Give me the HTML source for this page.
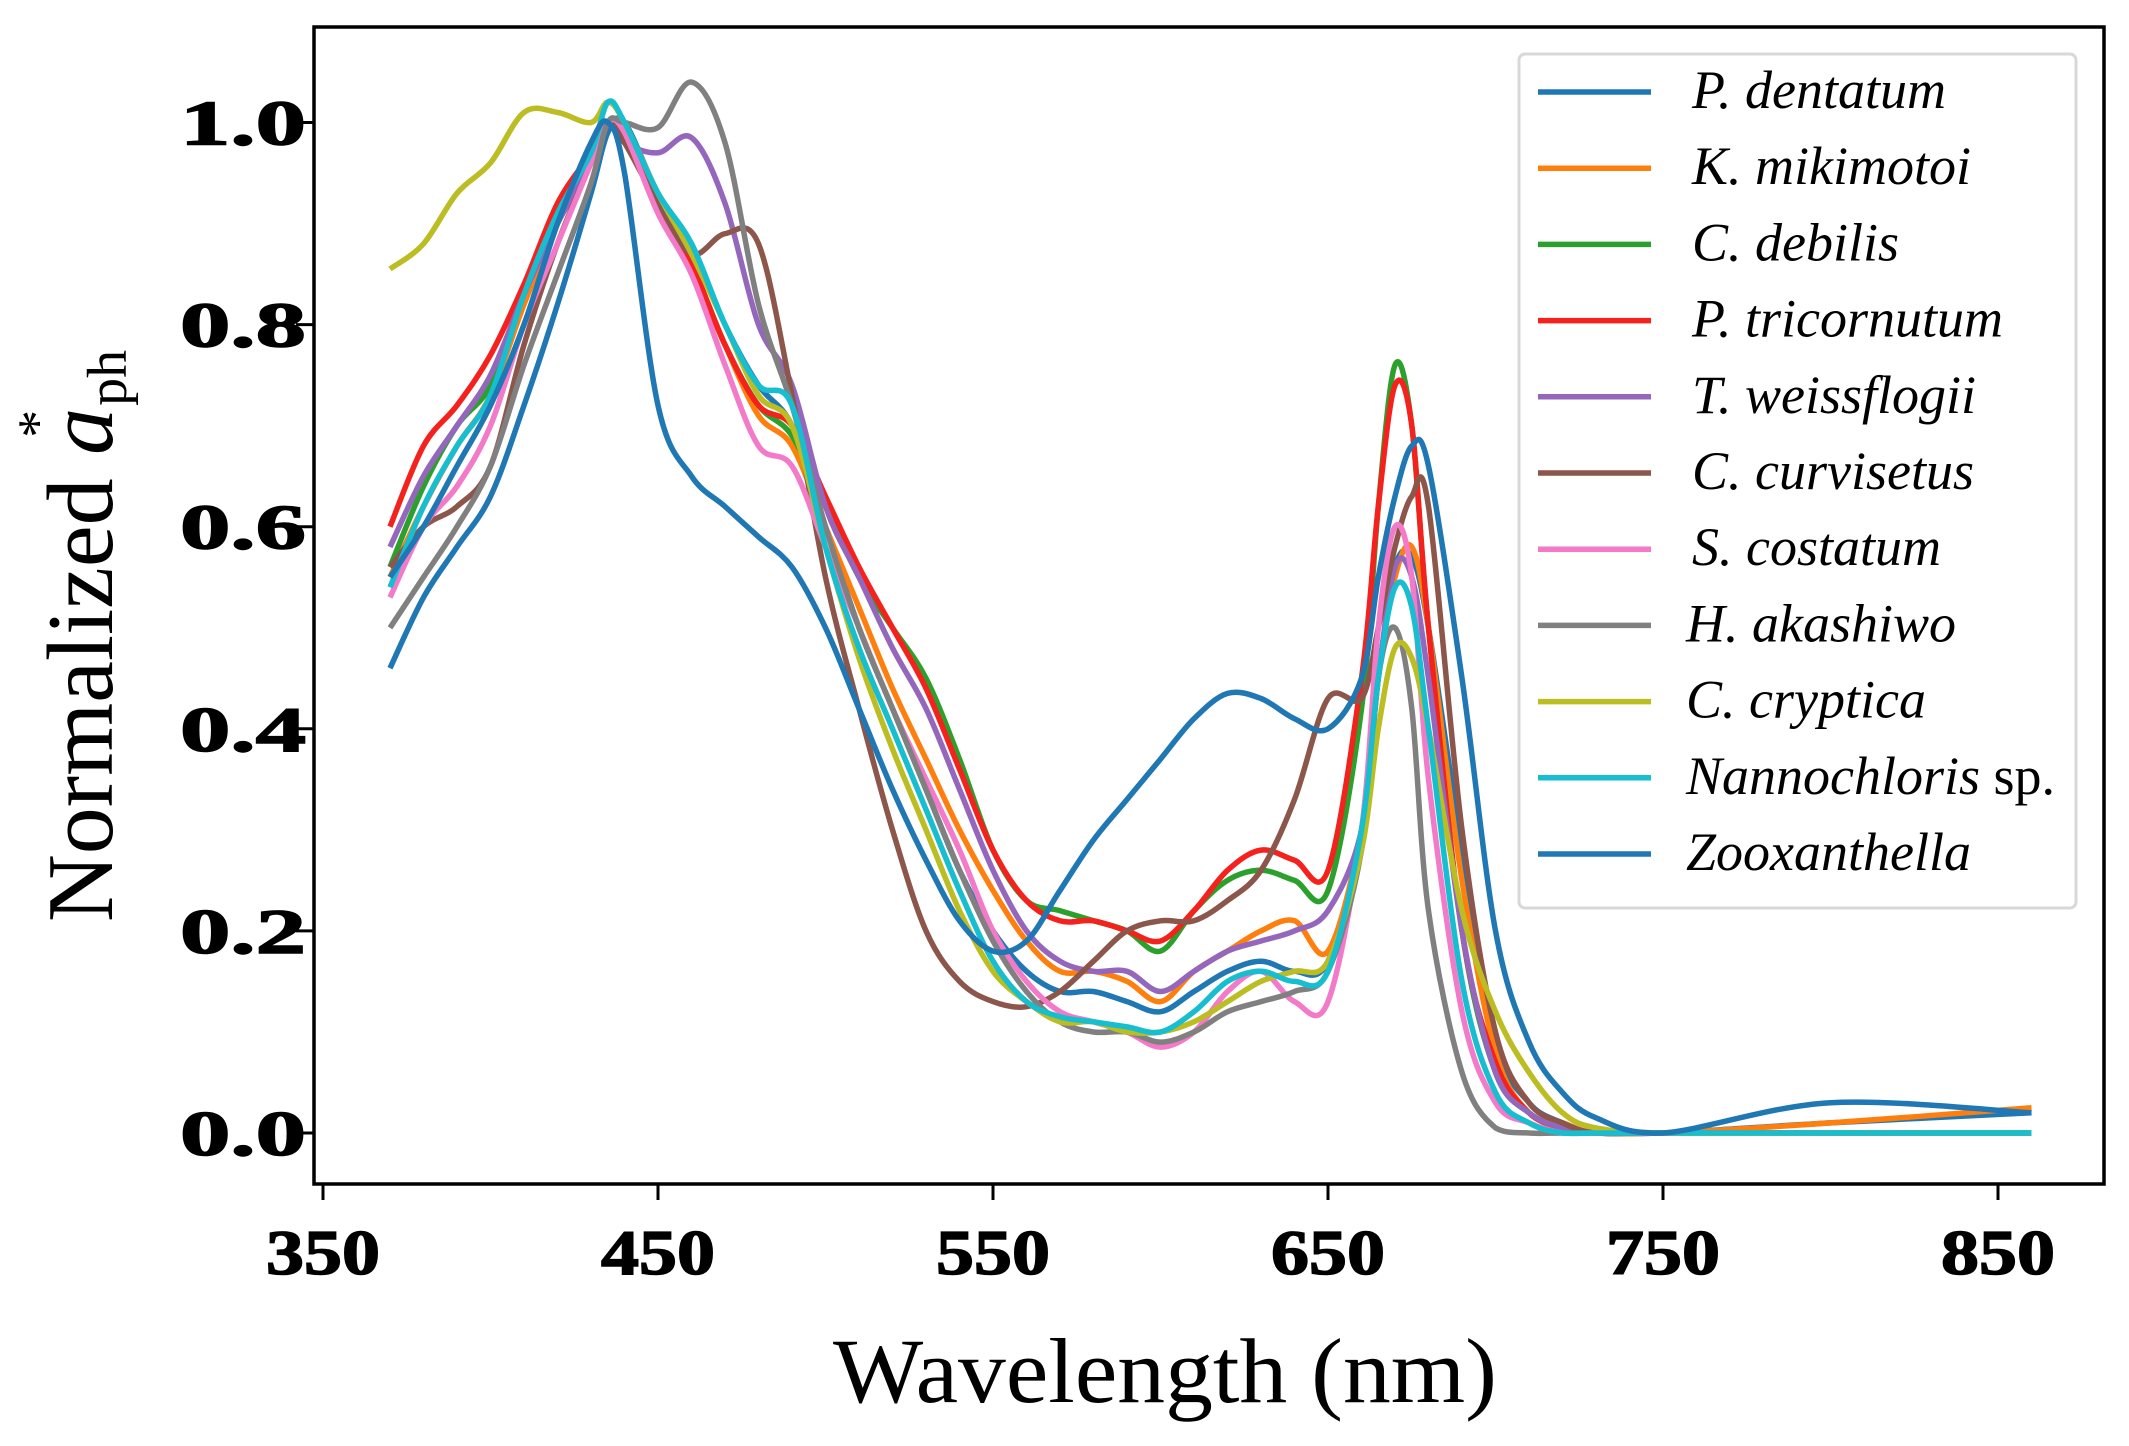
<!DOCTYPE html>
<html><head><meta charset="utf-8"><style>
html,body{margin:0;padding:0;background:#fff;}
svg{display:block;}
</style></head><body>
<svg id="chart" width="2129" height="1446" viewBox="0 0 2129 1446" xmlns="http://www.w3.org/2000/svg">
<rect x="314" y="27" width="1790" height="1157" fill="none" stroke="#000" stroke-width="3.5"/>
<g id="lines"></g>
<g id="axes"></g>
<text x="1165" y="1402" text-anchor="middle" font-family="Liberation Serif, serif" font-size="92" textLength="664" lengthAdjust="spacingAndGlyphs">Wavelength (nm)</text>
<g transform="translate(112,636) rotate(-90)">
<text x="0" y="0" text-anchor="middle" font-family="Liberation Serif, serif" font-size="94">Normalized <tspan font-style="italic">a</tspan><tspan font-size="56" dy="-56" dx="-30">*</tspan><tspan font-size="56" dy="70" dx="4">ph</tspan></text>
</g>
<g>
<rect x="1519" y="54" width="557" height="854" rx="6" fill="#fff" stroke="#d8d8d8" stroke-width="3"/>
<g id="legend-items"></g>
</g>
</svg>
<script>
const wavelengths=[370,380,390,400,410,420,430,435,440,450,460,470,480,490,500,510,520,530,540,550,560,570,580,590,600,610,620,630,640,650,660,665,670,675,680,690,700,710,720,730,750,800,860];
const speciesNames=["P. dentatum","K. mikimotoi","C. debilis","P. tricornutum","T. weissflogii","C. curvisetus","S. costatum","H. akashiwo","C. cryptica","Nannochloris","Zooxanthella"];
const colors=["#1f77b4","#ff7f0e","#2ca02c","#f5211d","#9467bd","#8c564b","#f27ac8","#808080","#bcbd22","#17becf","#1f77b4"];
const sDentatum=[0.46,0.53,0.58,0.63,0.72,0.82,0.93,0.99,1.0,0.93,0.88,0.80,0.74,0.70,0.60,0.50,0.42,0.34,0.26,0.20,0.16,0.14,0.14,0.13,0.12,0.14,0.16,0.17,0.16,0.17,0.30,0.45,0.56,0.57,0.50,0.28,0.09,0.03,0.01,0.0,0.0,0.01,0.02];
const sMikimotoi=[0.55,0.62,0.68,0.73,0.82,0.90,0.97,1.0,0.99,0.92,0.86,0.78,0.71,0.68,0.60,0.52,0.44,0.37,0.30,0.24,0.19,0.16,0.16,0.15,0.13,0.16,0.18,0.20,0.21,0.18,0.30,0.45,0.55,0.58,0.50,0.25,0.08,0.02,0.01,0.0,0.0,0.01,0.025];
const sDebilis=[0.56,0.64,0.70,0.74,0.83,0.91,0.97,1.0,0.99,0.92,0.86,0.78,0.72,0.69,0.62,0.55,0.50,0.45,0.37,0.28,0.23,0.22,0.21,0.20,0.18,0.22,0.25,0.26,0.25,0.24,0.42,0.62,0.76,0.70,0.50,0.20,0.06,0.02,0.005,0.0,0.0,0.0,0.0];
const sTricornutum=[0.60,0.68,0.72,0.77,0.84,0.92,0.97,1.0,0.99,0.92,0.86,0.78,0.72,0.70,0.63,0.56,0.50,0.44,0.36,0.28,0.23,0.21,0.21,0.20,0.19,0.22,0.26,0.28,0.27,0.26,0.45,0.62,0.74,0.70,0.50,0.20,0.07,0.02,0.005,0.0,0.0,0.0,0.0];
const sWeissflogii=[0.58,0.65,0.70,0.75,0.83,0.90,0.96,1.0,0.98,0.97,0.985,0.92,0.80,0.74,0.62,0.55,0.48,0.42,0.34,0.26,0.20,0.17,0.16,0.16,0.14,0.16,0.18,0.19,0.20,0.22,0.30,0.45,0.56,0.55,0.45,0.20,0.06,0.02,0.005,0.0,0.0,0.0,0.0];
const sCurvisetus=[0.56,0.60,0.62,0.66,0.78,0.88,0.96,1.0,0.98,0.92,0.87,0.89,0.88,0.73,0.55,0.42,0.30,0.20,0.15,0.13,0.125,0.14,0.17,0.20,0.21,0.21,0.23,0.26,0.33,0.43,0.43,0.50,0.58,0.63,0.62,0.30,0.10,0.03,0.01,0.0,0.0,0.0,0.0];
const sCostatum=[0.53,0.60,0.64,0.70,0.80,0.88,0.96,1.0,0.99,0.91,0.85,0.76,0.68,0.66,0.58,0.50,0.42,0.35,0.28,0.20,0.15,0.12,0.11,0.10,0.085,0.10,0.14,0.16,0.13,0.13,0.30,0.50,0.60,0.55,0.35,0.12,0.03,0.01,0.0,0.0,0.0,0.0,0.0];
const sAkashiwo=[0.50,0.55,0.60,0.66,0.76,0.85,0.94,1.0,1.0,0.995,1.04,0.98,0.82,0.72,0.60,0.50,0.42,0.34,0.26,0.19,0.14,0.11,0.10,0.10,0.09,0.10,0.12,0.13,0.14,0.16,0.28,0.45,0.50,0.42,0.22,0.06,0.005,0.0,0.0,0.0,0.0,0.0,0.0];
const sCryptica=[0.855,0.88,0.93,0.96,1.01,1.01,1.0,1.02,1.0,0.93,0.87,0.80,0.73,0.70,0.58,0.47,0.38,0.30,0.22,0.16,0.13,0.11,0.11,0.10,0.10,0.11,0.13,0.15,0.16,0.17,0.28,0.40,0.48,0.47,0.40,0.22,0.12,0.06,0.02,0.005,0.0,0.0,0.0];
const sNannochloris=[0.54,0.62,0.68,0.73,0.83,0.91,0.97,1.02,1.0,0.93,0.88,0.80,0.74,0.72,0.58,0.48,0.40,0.32,0.24,0.17,0.13,0.115,0.11,0.105,0.10,0.12,0.15,0.16,0.15,0.16,0.30,0.45,0.54,0.52,0.40,0.15,0.04,0.01,0.0,0.0,0.0,0.0,0.0];
const sZooxanthella=[0.55,0.60,0.66,0.72,0.80,0.90,0.98,1.0,0.95,0.72,0.65,0.62,0.59,0.56,0.50,0.42,0.34,0.27,0.21,0.18,0.19,0.24,0.29,0.33,0.37,0.41,0.435,0.43,0.41,0.40,0.45,0.55,0.63,0.68,0.66,0.45,0.20,0.09,0.04,0.015,0.0,0.03,0.02];
const xTicks=[350,450,550,650,750,850];
const yTicks=[0.0,0.2,0.4,0.6,0.8,1.0];
const yTickLabels=["0.0","0.2","0.4","0.6","0.8","1.0"];
const allSeries=[sDentatum,sMikimotoi,sDebilis,sTricornutum,sWeissflogii,sCurvisetus,sCostatum,sAkashiwo,sCryptica,sNannochloris,sZooxanthella];

const NS="http://www.w3.org/2000/svg";
function xs(w){return 323+(w-350)*3.35;}
function ys(v){return 1133-v*1010.5;}
function smoothPath(pts){
  let d="M"+pts[0][0].toFixed(1)+","+pts[0][1].toFixed(1);
  for(let i=0;i<pts.length-1;i++){
    const p0=pts[Math.max(i-1,0)],p1=pts[i],p2=pts[i+1],p3=pts[Math.min(i+2,pts.length-1)];
    const c1x=p1[0]+(p2[0]-p0[0])/6,c1y=p1[1]+(p2[1]-p0[1])/6;
    const c2x=p2[0]-(p3[0]-p1[0])/6,c2y=p2[1]-(p3[1]-p1[1])/6;
    d+=" C"+c1x.toFixed(1)+","+Math.min(c1y,1134).toFixed(1)+" "+c2x.toFixed(1)+","+Math.min(c2y,1134).toFixed(1)+" "+p2[0].toFixed(1)+","+p2[1].toFixed(1);
  }
  return d;
}
const lines=document.getElementById('lines');
allSeries.forEach((s,i)=>{
  const pts=wavelengths.map((w,j)=>[xs(w),ys(s[j])]);
  const p=document.createElementNS(NS,'path');
  p.setAttribute('d',smoothPath(pts));
  p.setAttribute('fill','none');
  p.setAttribute('stroke',colors[i]);
  p.setAttribute('stroke-width','5.5');
  p.setAttribute('stroke-linejoin','round');
  
  
  lines.appendChild(p);
});
const axes=document.getElementById('axes');
xTicks.forEach(t=>{
  const l=document.createElementNS(NS,'line');
  l.setAttribute('x1',xs(t));l.setAttribute('x2',xs(t));
  l.setAttribute('y1',1184);l.setAttribute('y2',1200);
  l.setAttribute('stroke','#000');l.setAttribute('stroke-width','3');
  
  
  axes.appendChild(l);
  const tx=document.createElementNS(NS,'text');
  tx.setAttribute('x',xs(t));tx.setAttribute('y',1274);
  tx.setAttribute('text-anchor','middle');
  tx.setAttribute('font-family','Liberation Serif, serif');
  tx.setAttribute('font-weight','bold');
  tx.setAttribute('font-size','64');
  tx.setAttribute('stroke','#000');
  tx.setAttribute('stroke-width','1.5');
  tx.setAttribute('textLength','114');
  tx.setAttribute('lengthAdjust','spacingAndGlyphs');
  
  
  tx.textContent=String(t);
  axes.appendChild(tx);
});
yTicks.forEach((t,i)=>{
  const l=document.createElementNS(NS,'line');
  l.setAttribute('x1',296);l.setAttribute('x2',314);
  l.setAttribute('y1',ys(t));l.setAttribute('y2',ys(t));
  l.setAttribute('stroke','#000');l.setAttribute('stroke-width','3');
  
  
  axes.appendChild(l);
  const tx=document.createElementNS(NS,'text');
  tx.setAttribute('x',180);tx.setAttribute('y',ys(t)+22);
  tx.setAttribute('font-family','Liberation Serif, serif');
  tx.setAttribute('font-weight','bold');
  tx.setAttribute('font-size','64');
  tx.setAttribute('stroke','#000');
  tx.setAttribute('stroke-width','1.5');
  tx.setAttribute('textLength','126');
  tx.setAttribute('lengthAdjust','spacingAndGlyphs');
  
  
  tx.textContent=yTickLabels[i];
  axes.appendChild(tx);
});
const leg=document.getElementById('legend-items');
speciesNames.forEach((n,i)=>{
  const y=92+i*76.2;
  const l=document.createElementNS(NS,'line');
  l.setAttribute('x1',1538);l.setAttribute('x2',1651);
  l.setAttribute('y1',y);l.setAttribute('y2',y);
  l.setAttribute('stroke',colors[i]);l.setAttribute('stroke-width','5.5');
  
  
  leg.appendChild(l);
  const tx=document.createElementNS(NS,'text');
  tx.setAttribute('x',i>=7?1686:1692);tx.setAttribute('y',y+16);
  tx.setAttribute('font-family','Liberation Serif, serif');
  tx.setAttribute('font-size','54');
  
  
  const it=document.createElementNS(NS,'tspan');
  it.setAttribute('font-style','italic');
  it.textContent=n;
  tx.appendChild(it);
  if(n==="Nannochloris"){const sp=document.createElementNS(NS,'tspan');sp.textContent=" sp.";tx.appendChild(sp);}
  leg.appendChild(tx);
});
</script>
</body></html>
